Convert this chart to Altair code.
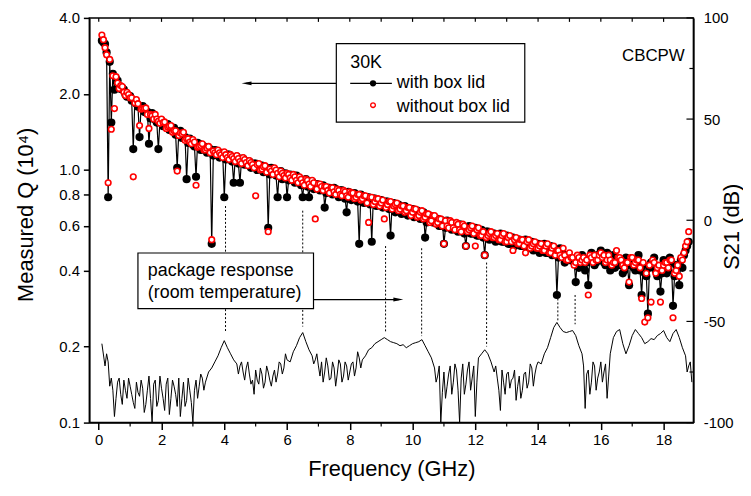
import altair as alt
import pandas as pd

FONT = "Liberation Sans, Arial, Helvetica, sans-serif"

# ---------------- data ----------------
FREQ_Q = [
    0.1, 0.2, 0.3, 0.4, 0.5, 0.6, 0.7, 0.8, 0.9, 1.0,
    1.1, 1.2, 1.3, 1.4, 1.5, 1.6, 1.7, 1.8, 1.9, 2.0,
    2.1, 2.2, 2.3, 2.4, 2.5, 2.6, 2.7, 2.8, 2.9, 3.0,
    3.1, 3.2, 3.3, 3.4, 3.5, 3.6, 3.7, 3.8, 3.9, 4.0,
    4.1, 4.2, 4.3, 4.4, 4.5, 4.6, 4.7, 4.8, 4.9, 5.0,
    5.1, 5.2, 5.3, 5.4, 5.5, 5.6, 5.7, 5.8, 5.9, 6.0,
    6.1, 6.2, 6.3, 6.4, 6.5, 6.6, 6.7, 6.8, 6.9, 7.0,
    7.1, 7.2, 7.3, 7.4, 7.5, 7.6, 7.7, 7.8, 7.9, 8.0,
    8.1, 8.2, 8.3, 8.4, 8.5, 8.6, 8.7, 8.8, 8.9, 9.0,
    9.1, 9.2, 9.3, 9.4, 9.5, 9.6, 9.7, 9.8, 9.9, 10.0,
    10.1, 10.2, 10.3, 10.4, 10.5, 10.6, 10.7, 10.8, 10.9, 11.0,
    11.1, 11.2, 11.3, 11.4, 11.5, 11.6, 11.7, 11.8, 11.9, 12.0,
    12.1, 12.2, 12.3, 12.4, 12.5, 12.6, 12.7, 12.8, 12.9, 13.0,
    13.1, 13.2, 13.3, 13.4, 13.5, 13.6, 13.7, 13.8, 13.9, 14.0,
    14.1, 14.2, 14.3, 14.4, 14.5, 14.6, 14.7, 14.8, 14.9, 15.0,
    15.1, 15.2, 15.3, 15.4, 15.5, 15.6, 15.7, 15.8, 15.9, 16.0,
    16.1, 16.2, 16.3, 16.4, 16.5, 16.6, 16.7, 16.8, 16.9, 17.0,
    17.1, 17.2, 17.3, 17.4, 17.5, 17.6, 17.7, 17.8, 17.9, 18.0,
    18.1, 18.2, 18.3, 18.4, 18.5, 18.6, 18.7, 18.8,
]

# measured Q (units of 1e4), with box lid (black, connected)
Q_WITH_LID = [
    3.25, 3.15, 0.78, 1.54, 2.08, 2.26, 2.09, 2.08, 1.95, 1.96,
    1.21, 1.83, 1.35, 1.79, 1.69, 1.27, 1.68, 1.58, 1.21, 1.57,
    1.49, 1.52, 1.44, 1.47, 1.02, 1.43, 1.35, 0.92, 1.33, 1.26,
    0.94, 1.27, 1.21, 1.23, 1.18, 0.51, 1.20, 1.14, 1.17, 0.78,
    1.15, 1.10, 0.89, 1.13, 0.89, 1.11, 1.06, 1.08, 1.03, 1.06,
    1.01, 1.04, 0.99, 0.59, 1.02, 0.97, 0.78, 0.99, 0.94, 0.78,
    0.96, 0.91, 0.95, 0.89, 0.78, 0.92, 0.78, 0.90, 0.85, 0.87,
    0.84, 0.71, 0.85, 0.82, 0.85, 0.80, 0.83, 0.79, 0.68, 0.81,
    0.78, 0.80, 0.51, 0.79, 0.76, 0.78, 0.52, 0.77, 0.74, 0.76,
    0.73, 0.75, 0.55, 0.74, 0.70, 0.72, 0.69, 0.71, 0.67, 0.70,
    0.66, 0.68, 0.65, 0.54, 0.63, 0.65, 0.62, 0.64, 0.60, 0.51,
    0.63, 0.59, 0.61, 0.58, 0.61, 0.57, 0.50, 0.60, 0.56, 0.59,
    0.55, 0.58, 0.46, 0.57, 0.54, 0.56, 0.53, 0.56, 0.52, 0.55,
    0.51, 0.54, 0.51, 0.53, 0.50, 0.53, 0.49, 0.52, 0.49, 0.51,
    0.48, 0.51, 0.47, 0.50, 0.47, 0.32, 0.49, 0.45, 0.46, 0.44,
    0.44, 0.36, 0.41, 0.46, 0.40, 0.35, 0.47, 0.42, 0.46, 0.48,
    0.43, 0.47, 0.40, 0.46, 0.44, 0.42, 0.39, 0.45, 0.35, 0.42,
    0.40, 0.46, 0.32, 0.39, 0.27, 0.43, 0.45, 0.38, 0.33, 0.44,
    0.39, 0.45, 0.29, 0.42, 0.35, 0.41, 0.48, 0.52,
]

# measured Q (units of 1e4), without box lid (red open circles)
Q_WITHOUT_LID = [
    3.42, 3.05, 0.89, 1.45, 1.75, 2.21, 2.16, 2.03, 2.03, 1.93,
    0.94, 1.90, 1.50, 1.75, 1.76, 1.46, 1.64, 1.66, 1.56, 1.59,
    1.55, 1.48, 1.50, 1.43, 0.99, 1.40, 1.41, 1.33, 1.29, 1.32,
    0.87, 1.24, 1.27, 1.20, 1.24, 0.53, 1.17, 1.20, 1.15, 1.18,
    1.12, 1.15, 1.11, 1.14, 1.08, 1.12, 1.07, 1.09, 1.05, 0.79,
    1.06, 1.01, 1.04, 0.57, 0.99, 1.02, 0.97, 0.99, 0.95, 0.97,
    0.93, 0.96, 0.91, 0.94, 0.89, 0.92, 0.88, 0.91, 0.64, 0.88,
    0.86, 0.86, 0.83, 0.85, 0.82, 0.84, 0.80, 0.83, 0.79, 0.82,
    0.81, 0.78, 0.80, 0.77, 0.79, 0.62, 0.78, 0.75, 0.77, 0.74,
    0.64, 0.73, 0.75, 0.72, 0.74, 0.70, 0.72, 0.69, 0.71, 0.68,
    0.70, 0.66, 0.69, 0.65, 0.67, 0.63, 0.66, 0.62, 0.64, 0.51,
    0.60, 0.63, 0.59, 0.62, 0.58, 0.61, 0.50, 0.58, 0.60, 0.50,
    0.59, 0.55, 0.46, 0.55, 0.57, 0.54, 0.56, 0.53, 0.56, 0.52,
    0.55, 0.48, 0.54, 0.51, 0.53, 0.47, 0.53, 0.50, 0.52, 0.49,
    0.51, 0.48, 0.51, 0.47, 0.50, 0.48, 0.46, 0.49, 0.44, 0.47,
    0.45, 0.43, 0.45, 0.44, 0.43, 0.32, 0.45, 0.46, 0.44, 0.47,
    0.46, 0.44, 0.44, 0.43, 0.48, 0.45, 0.42, 0.43, 0.36, 0.45,
    0.43, 0.44, 0.31, 0.25, 0.26, 0.30, 0.43, 0.41, 0.30, 0.42,
    0.43, 0.44, 0.26, 0.40, 0.38, 0.44, 0.50, 0.57,
]

# the interleaved resonances (between the ones above)
FREQ_Q_FINE = [
    0.15, 0.25, 0.35, 0.45, 0.55, 0.65, 0.75, 0.85, 0.95,
    1.05, 1.15, 1.25, 1.35, 1.45, 1.55, 1.65, 1.75, 1.85, 1.95,
    2.05, 2.15, 2.25, 2.35, 2.45, 2.55, 2.65, 2.75, 2.85, 2.95,
    3.05, 3.15, 3.25, 3.35, 3.45, 3.55, 3.65, 3.75, 3.85, 3.95,
    4.05, 4.15, 4.25, 4.35, 4.45, 4.55, 4.65, 4.75, 4.85, 4.95,
    5.05, 5.15, 5.25, 5.35, 5.45, 5.55, 5.65, 5.75, 5.85, 5.95,
    6.05, 6.15, 6.25, 6.35, 6.45, 6.55, 6.65, 6.75, 6.85, 6.95,
    7.05, 7.15, 7.25, 7.35, 7.45, 7.55, 7.65, 7.75, 7.85, 7.95,
    8.05, 8.15, 8.25, 8.35, 8.45, 8.55, 8.65, 8.75, 8.85, 8.95,
    9.05, 9.15, 9.25, 9.35, 9.45, 9.55, 9.65, 9.75, 9.85, 9.95,
    10.05, 10.15, 10.25, 10.35, 10.45, 10.55, 10.65, 10.75, 10.85, 10.95,
    11.05, 11.15, 11.25, 11.35, 11.45, 11.55, 11.65, 11.75, 11.85, 11.95,
    12.05, 12.15, 12.25, 12.35, 12.45, 12.55, 12.65, 12.75, 12.85, 12.95,
    13.05, 13.15, 13.25, 13.35, 13.45, 13.55, 13.65, 13.75, 13.85, 13.95,
    14.05, 14.15, 14.25, 14.35, 14.45, 14.55, 14.65, 14.75, 14.85, 14.95,
    15.05, 15.15, 15.25, 15.35, 15.45, 15.55, 15.65, 15.75, 15.85, 15.95,
    16.05, 16.15, 16.25, 16.35, 16.45, 16.55, 16.65, 16.75, 16.85, 16.95,
    17.05, 17.15, 17.25, 17.35, 17.45, 17.55, 17.65, 17.75, 17.85, 17.95,
    18.05, 18.15, 18.25, 18.35, 18.45, 18.55, 18.65, 18.75,
]
Q_WITH_LID_FINE = [
    3.20, 2.92, 2.68, 2.40, 2.30, 2.14, 2.11, 1.99, 1.97,
    1.88, 1.88, 1.78, 1.78, 1.70, 1.70, 1.60, 1.63, 1.54, 1.56,
    1.49, 1.50, 1.44, 1.45, 1.38, 1.41, 1.34, 1.35, 1.28, 1.31,
    1.24, 1.28, 1.20, 1.24, 1.17, 1.21, 1.14, 1.19, 1.12, 1.16,
    1.10, 1.15, 1.08, 1.12, 1.06, 1.10, 1.05, 1.08, 1.02, 1.06,
    1.00, 1.04, 0.98, 1.02, 0.96, 1.00, 0.95, 0.98, 0.92, 0.97,
    0.91, 0.95, 0.89, 0.93, 0.87, 0.91, 0.86, 0.90, 0.84, 0.88,
    0.83, 0.87, 0.81, 0.85, 0.80, 0.84, 0.78, 0.83, 0.77, 0.82,
    0.76, 0.81, 0.75, 0.80, 0.74, 0.78, 0.73, 0.77, 0.72, 0.76,
    0.71, 0.75, 0.70, 0.74, 0.68, 0.73, 0.67, 0.72, 0.66, 0.70,
    0.65, 0.69, 0.64, 0.68, 0.62, 0.66, 0.62, 0.64, 0.60, 0.63,
    0.59, 0.62, 0.58, 0.61, 0.57, 0.60, 0.56, 0.59, 0.56, 0.58,
    0.55, 0.57, 0.54, 0.57, 0.53, 0.56, 0.52, 0.55, 0.52, 0.54,
    0.51, 0.54, 0.50, 0.53, 0.50, 0.52, 0.49, 0.51, 0.48, 0.51,
    0.47, 0.50, 0.47, 0.49, 0.46, 0.48, 0.45, 0.47, 0.43, 0.46,
    0.44, 0.43, 0.44, 0.42, 0.44, 0.43, 0.45, 0.44, 0.43, 0.45,
    0.44, 0.42, 0.45, 0.43, 0.41, 0.44, 0.43, 0.40, 0.42, 0.44,
    0.41, 0.43, 0.40, 0.42, 0.38, 0.41, 0.43, 0.40, 0.41, 0.39,
    0.42, 0.40, 0.43, 0.38, 0.41, 0.44, 0.46, 0.50,
]
Q_WITHOUT_LID_FINE = [
    3.28, 2.86, 2.74, 2.36, 2.34, 2.10, 2.14, 1.97, 1.99,
    1.93, 1.84, 1.83, 1.74, 1.75, 1.66, 1.66, 1.59, 1.59, 1.53,
    1.54, 1.46, 1.49, 1.41, 1.43, 1.37, 1.39, 1.31, 1.33, 1.27,
    1.29, 1.23, 1.25, 1.20, 1.22, 1.17, 1.19, 1.15, 1.17, 1.12,
    1.15, 1.10, 1.13, 1.08, 1.11, 1.06, 1.10, 1.04, 1.07, 1.02,
    1.05, 1.00, 1.03, 0.98, 1.01, 0.96, 1.00, 0.94, 0.97, 0.93,
    0.96, 0.91, 0.94, 0.89, 0.92, 0.87, 0.91, 0.86, 0.89, 0.84,
    0.88, 0.83, 0.86, 0.81, 0.85, 0.80, 0.83, 0.79, 0.82, 0.78,
    0.81, 0.77, 0.80, 0.76, 0.79, 0.74, 0.78, 0.73, 0.77, 0.72,
    0.76, 0.71, 0.75, 0.70, 0.73, 0.69, 0.72, 0.68, 0.71, 0.66,
    0.70, 0.65, 0.68, 0.64, 0.67, 0.62, 0.66, 0.61, 0.64, 0.60,
    0.63, 0.59, 0.62, 0.58, 0.61, 0.57, 0.60, 0.57, 0.59, 0.56,
    0.58, 0.55, 0.57, 0.54, 0.56, 0.54, 0.55, 0.53, 0.55, 0.52,
    0.54, 0.52, 0.53, 0.51, 0.53, 0.50, 0.52, 0.49, 0.51, 0.49,
    0.50, 0.48, 0.50, 0.47, 0.49, 0.46, 0.48, 0.45, 0.46, 0.44,
    0.45, 0.42, 0.46, 0.43, 0.45, 0.44, 0.46, 0.43, 0.44, 0.46,
    0.45, 0.43, 0.46, 0.42, 0.43, 0.45, 0.44, 0.41, 0.43, 0.45,
    0.42, 0.44, 0.41, 0.43, 0.39, 0.42, 0.44, 0.39, 0.42, 0.40,
    0.43, 0.41, 0.44, 0.39, 0.42, 0.45, 0.47, 0.52,
]

FREQ_PKG = [
    0.1, 0.2, 0.3, 0.4, 0.5, 0.6, 0.7, 0.8, 0.9, 1.0,
    1.1, 1.2, 1.3, 1.4, 1.5, 1.6, 1.7, 1.8, 1.9, 2.0,
    2.1, 2.2, 2.3, 2.4, 2.5, 2.6, 2.7, 2.8, 2.9, 3.0,
    3.1, 3.2, 3.3, 3.4, 3.5, 3.6, 3.7, 3.8, 3.9, 4.0,
    4.1, 4.2, 4.3, 4.4, 4.5, 4.6, 4.7, 4.8, 4.9, 5.0,
    5.1, 5.2, 5.3, 5.4, 5.5, 5.6, 5.7, 5.8, 5.9, 6.0,
    6.1, 6.2, 6.3, 6.4, 6.5, 6.6, 6.7, 6.8, 6.9, 7.0,
    7.1, 7.2, 7.3, 7.4, 7.5, 7.6, 7.7, 7.8, 7.9, 8.0,
    8.1, 8.2, 8.3, 8.4, 8.5, 8.6, 8.7, 8.8, 8.9, 9.0,
    9.1, 9.2, 9.3, 9.4, 9.5, 9.6, 9.7, 9.8, 9.9, 10.0,
    10.1, 10.2, 10.3, 10.4, 10.5, 10.6, 10.7, 10.8, 10.9, 11.0,
    11.1, 11.2, 11.3, 11.4, 11.5, 11.6, 11.7, 11.8, 11.9, 12.0,
    12.1, 12.2, 12.3, 12.4, 12.5, 12.6, 12.7, 12.8, 12.9, 13.0,
    13.1, 13.2, 13.3, 13.4, 13.5, 13.6, 13.7, 13.8, 13.9, 14.0,
    14.1, 14.2, 14.3, 14.4, 14.5, 14.6, 14.7, 14.8, 14.9, 15.0,
    15.1, 15.2, 15.3, 15.4, 15.5, 15.6, 15.7, 15.8, 15.9, 16.0,
    16.1, 16.2, 16.3, 16.4, 16.5, 16.6, 16.7, 16.8, 16.9, 17.0,
    17.1, 17.2, 17.3, 17.4, 17.5, 17.6, 17.7, 17.8, 17.9, 18.0,
    18.1, 18.2, 18.3, 18.4, 18.5, 18.6, 18.7, 18.8, 18.9,
]

# package response S21 (dB), room temperature
S21_PKG = [
    -61, -72, -70, -78, -97, -80, -86, -79, -88, -82,
    -90, -80, -87, -83, -91, -77, -100, -79, -89, -83,
    -94, -78, -88, -82, -92, -97, -80, -89, -84, -100,
    -79, -82, -78, -80, -75, -73, -70, -67, -63, -59.5,
    -63, -66, -69, -71, -72, -75, -73, -76, -79, -74,
    -81, -76, -80, -75, -82, -74, -76, -71, -73, -69,
    -70, -65, -62, -58, -55.5, -60, -64, -67, -69, -72,
    -70, -75, -72, -78, -73, -76, -71, -77, -72, -75,
    -70, -73, -68, -69, -67, -64, -63, -61, -60, -59,
    -58, -59, -60, -60.5, -61, -62, -61.5, -63, -62, -61,
    -60.5, -60, -59, -62, -65, -68, -73, -77, -100, -75,
    -82, -72, -80, -74, -100, -71, -81, -70, -78, -97,
    -68, -66, -64, -66, -70, -75, -78, -94, -80, -76,
    -83, -78, -89, -77, -84, -75, -80, -73, -76, -70,
    -71, -66, -63, -58, -53, -50.5, -53, -55, -55.5, -55,
    -54.5, -57, -62, -66, -93, -74, -80, -72, -78, -70,
    -75, -88, -66, -58, -55, -54, -61, -66, -62, -57,
    -54, -56, -58, -61, -60, -58.5, -59, -57, -56, -54.5,
    -58, -60, -56, -54, -58, -63, -67, -72, -80,
]

# extra in-between samples of the package response in its noisy stretches
FREQ_PKG_FINE = [
    0.25, 0.35, 0.45, 0.55, 0.65, 0.75, 0.85, 0.95, 1.05, 1.15,
    1.25, 1.35, 1.45, 1.55, 1.65, 1.75, 1.85, 1.95, 2.05, 2.15,
    2.25, 2.35, 2.45, 2.55, 2.65, 2.75, 2.85, 2.95, 3.05, 3.15,
    3.25, 3.35,
    4.45, 4.55, 4.65, 4.75, 4.85, 4.95, 5.05, 5.15, 5.25, 5.35,
    5.45, 5.55, 5.65, 5.75, 5.85, 5.95,
    6.85, 6.95, 7.05, 7.15, 7.25, 7.35, 7.45, 7.55, 7.65, 7.75,
    7.85, 7.95, 8.05, 8.15, 8.25, 8.35,
    10.75, 10.85, 10.95, 11.05, 11.15, 11.25, 11.35, 11.45, 11.55, 11.65,
    11.75, 11.85, 11.95, 12.05,
    12.65, 12.75, 12.85, 12.95, 13.05, 13.15, 13.25, 13.35, 13.45, 13.55,
    13.65, 13.75, 13.85, 13.95,
    15.45, 15.55, 15.65, 15.75, 15.85, 15.95, 16.05, 16.15, 16.25,
    18.75, 18.85,
]
S21_PKG_FINE = [
    -66, -82, -84, -88, -78, -91, -84, -78, -86, -93,
    -85, -79, -95, -84, -88, -81, -92, -77, -88, -81,
    -96, -79, -86, -78, -88, -92, -78, -90, -84, -88,
    -76, -84,
    -76, -70, -79, -70, -81, -86, -79, -73, -83, -72,
    -79, -77, -80, -70, -76, -66,
    -71, -66, -77, -80, -68, -79, -70, -82, -69, -80,
    -70, -79, -71, -77, -65, -73,
    -80, -72, -85, -88, -76, -86, -71, -84, -78, -86,
    -74, -84, -72, -80,
    -72, -84, -74, -86, -75, -79, -74, -82, -88, -76,
    -83, -71, -82, -72,
    -72, -76, -86, -70, -84, -75, -80, -71, -77,
    -75, -70,
]

# dotted guide lines linking Q dips with package resonances
GUIDE_FREQ = [4.04, 6.50, 9.14, 10.29, 12.36, 14.63, 15.18]
GUIDE_Q_TOP = [0.72, 0.69, 0.50, 0.49, 0.43, 0.31, 0.32]
GUIDE_Q_BOTTOM = [0.23, 0.24, 0.227, 0.22, 0.20, 0.25, 0.245]

X_MAJOR = [0, 2, 4, 6, 8, 10, 12, 14, 16, 18]
X_MINOR = [1, 3, 5, 7, 9, 11, 13, 15, 17]
X_ALL = [0, 1, 2, 3, 4, 5, 6, 7, 8, 9, 10, 11, 12, 13, 14, 15, 16, 17, 18]
Q_TICKS = [0.1, 0.2, 0.4, 0.6, 0.8, 1.0, 2.0, 4.0]
S_MAJOR = [-100, -50, 0, 50, 100]
S_MINOR = [-75, -25, 25, 75]

# ---------------- chart ----------------
W, H = 609, 408

dfq = pd.concat([
    pd.DataFrame({"f": FREQ_Q, "with": Q_WITH_LID, "without": Q_WITHOUT_LID}),
    pd.DataFrame({"f": FREQ_Q_FINE, "with": Q_WITH_LID_FINE, "without": Q_WITHOUT_LID_FINE}),
]).sort_values("f").reset_index(drop=True)
dfp = pd.concat([
    pd.DataFrame({"f": FREQ_PKG, "s21": S21_PKG}),
    pd.DataFrame({"f": FREQ_PKG_FINE, "s21": S21_PKG_FINE}),
]).sort_values("f").reset_index(drop=True)
dfg = pd.DataFrame({"f": GUIDE_FREQ, "top": GUIDE_Q_TOP, "bottom": GUIDE_Q_BOTTOM})

xscale = alt.Scale(domain=[-0.3, 18.95], nice=False, zero=False)
qscale = alt.Scale(type="log", domain=[0.1, 4.0], nice=False)
sscale = alt.Scale(domain=[-100, 100], nice=False, zero=False)

xaxis = alt.Axis(values=X_MAJOR, format="d", tickSize=7, labelPadding=3,
                 title="Frequency (GHz)", titleBaseline="alphabetic", titleY=53,
                 labelFlush=False, grid=False)
qaxis = alt.Axis(values=Q_TICKS, format=".1f", tickSize=6, labelPadding=4,
                 title="Measured Q (10⁴)", titleAngle=270, titleX=-57, titleY=198,
                 titleAlign="center", titleBaseline="alphabetic",
                 labelFlush=False, grid=False)
saxis = alt.Axis(orient="right", values=S_MAJOR, labelExpr="'' + datum.value",
                 ticks=False, labelPadding=10,
                 title="S21 (dB)", titleAngle=270, titleX=45, titleY=210,
                 titleAlign="center", titleBaseline="alphabetic",
                 labelFlush=False, grid=False)


def X():
    return alt.X("f:Q", scale=xscale, axis=xaxis)


def QY(field):
    return alt.Y(field, type="quantitative", scale=qscale, axis=qaxis)


def SY(field):
    return alt.Y(field, type="quantitative", scale=sscale, axis=saxis)


guides = alt.Chart(dfg).mark_rule(color="black", strokeWidth=1, strokeDash=[2, 2]).encode(
    x=X(), y=QY("top"), y2="bottom:Q")

black_line = alt.Chart(dfq).mark_line(color="black", strokeWidth=1.2).encode(
    x=X(), y=QY("with"))

black_pts = alt.Chart(dfq).mark_point(shape="circle", filled=True, color="black",
                                      size=68, opacity=1).encode(
    x=X(), y=QY("with"))

red_pts = alt.Chart(dfq).mark_point(shape="circle", filled=True, fill="white",
                                    stroke="#ff0000", strokeWidth=1.6, size=32,
                                    opacity=1).encode(
    x=X(), y=QY("without"))

top_ticks = alt.Chart(pd.DataFrame({"f": X_ALL})).mark_rule(color="black", strokeWidth=1.2).encode(
    x=X(), y=alt.value(0), y2=alt.value(4))
bottom_minor = alt.Chart(pd.DataFrame({"f": X_MINOR})).mark_rule(color="black", strokeWidth=1.2).encode(
    x=X(), y=alt.value(H), y2=alt.value(H + 4))

q_group = alt.layer(guides, black_line, black_pts, red_pts, top_ticks, bottom_minor)

pkg_line = alt.Chart(dfp).mark_line(color="black", strokeWidth=1).encode(
    x=X(), y=SY("s21"))
s_major = alt.Chart(pd.DataFrame({"v": S_MAJOR})).mark_rule(color="black", strokeWidth=1.2).encode(
    y=SY("v"), x=alt.value(W - 7), x2=alt.value(W))
s_minor = alt.Chart(pd.DataFrame({"v": S_MINOR})).mark_rule(color="black", strokeWidth=1.2).encode(
    y=SY("v"), x=alt.value(W - 4), x2=alt.value(W))

s_group = alt.layer(pkg_line, s_major, s_minor)

# ---------------- annotations ----------------
one = pd.DataFrame({"a": [0]})
ARROW_L = "M -1 0 L 1 -0.4 L 1 0.4 Z"
ARROW_R = "M 1 0 L -1 -0.4 L -1 0.4 Z"


def txt(s, x, y, size=18):
    return alt.Chart(one).mark_text(text=s, align="left", baseline="alphabetic",
                                    font=FONT, fontSize=size, color="black").encode(
        x=alt.value(x), y=alt.value(y))


def rect(x1, y1, x2, y2):
    return alt.Chart(one).mark_rect(fill="white", stroke="black", strokeWidth=1.2).encode(
        x=alt.value(x1), x2=alt.value(x2), y=alt.value(y1), y2=alt.value(y2))


def hline(x1, x2, y, width=1.2):
    return alt.Chart(one).mark_rule(color="black", strokeWidth=width).encode(
        x=alt.value(x1), x2=alt.value(x2), y=alt.value(y))


def arrowhead(shape, x, y):
    return alt.Chart(one).mark_point(shape=shape, filled=True, color="black",
                                     size=100, opacity=1).encode(
        x=alt.value(x), y=alt.value(y))


legend_box = rect(249, 26, 439, 105)
legend_arrow = hline(158, 249, 66)
legend_head = arrowhead(ARROW_L, 158.5, 66)
leg_line = hline(263, 305, 66)
leg_dot = alt.Chart(one).mark_point(shape="circle", filled=True, color="black",
                                    size=40, opacity=1).encode(x=alt.value(286), y=alt.value(66))
leg_red = alt.Chart(one).mark_point(shape="circle", filled=True, fill="white", stroke="#ff0000",
                                    strokeWidth=1.4, size=22, opacity=1).encode(
    x=alt.value(286), y=alt.value(88))

pkg_box = rect(49, 237, 226, 293)
pkg_arrow = hline(226, 312, 284)
pkg_head = arrowhead(ARROW_R, 311.5, 284)

annot = alt.layer(
    legend_arrow, legend_head, legend_box, leg_line, leg_dot, leg_red,
    txt("30K", 263, 51), txt("with box lid", 310, 71), txt("without box lid", 310, 95),
    txt("CBCPW", 537, 43, 17),
    pkg_arrow, pkg_head, pkg_box,
    txt("package response", 59, 260), txt("(room temperature)", 59, 282),
)

chart = alt.layer(q_group, s_group, annot).resolve_scale(y="independent").properties(
    width=W, height=H,
    autosize=alt.AutoSizeParams(type="none"),
    padding={"left": 82, "top": 8, "right": 50, "bottom": 70},
).configure_view(
    stroke="black", strokeWidth=1.5
).configure_axis(
    labelFont=FONT, titleFont=FONT, labelFontSize=15, titleFontSize=22,
    titleFontWeight="normal", labelColor="black", titleColor="black",
    domainColor="black", tickColor="black", domainWidth=1.5, tickWidth=1.5,
)

chart.save("out.html", embed_options={"renderer": "svg", "actions": False})
